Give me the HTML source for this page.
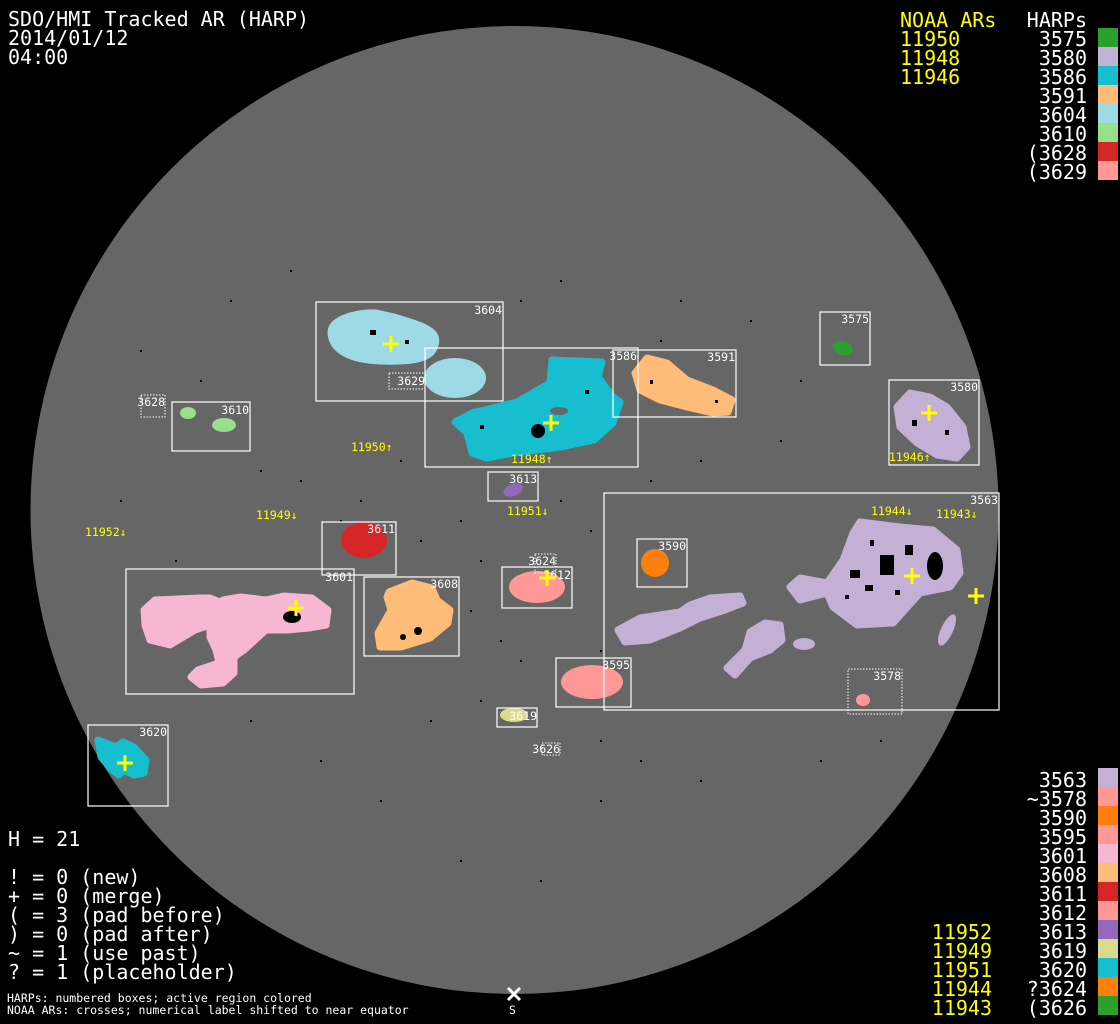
<!DOCTYPE html>
<html><head><meta charset="utf-8"><style>
html,body{margin:0;padding:0;background:#000;}
svg{display:block}
text{font-family:"DejaVu Sans Mono","Liberation Mono",monospace;}
.b{stroke-width:7;stroke-linejoin:round}
</style></head><body>
<svg width="1120" height="1024" viewBox="0 0 1120 1024" xmlns="http://www.w3.org/2000/svg">
<rect width="1120" height="1024" fill="#000"/>
<circle cx="514.5" cy="510" r="484" fill="#666666"/>

<g fill="#000">
<rect x="290" y="270" width="2" height="2"/><rect x="140" y="350" width="2" height="2"/><rect x="200" y="380" width="2" height="2"/>
<rect x="260" y="470" width="2" height="2"/><rect x="300" y="480" width="2" height="2"/><rect x="120" y="500" width="2" height="2"/>
<rect x="175" y="560" width="2" height="2"/><rect x="460" y="520" width="2" height="2"/><rect x="480" y="560" width="2" height="2"/>
<rect x="470" y="610" width="2" height="2"/><rect x="500" y="640" width="2" height="2"/><rect x="520" y="660" width="2" height="2"/>
<rect x="480" y="700" width="2" height="2"/><rect x="430" y="720" width="2" height="2"/><rect x="600" y="740" width="2" height="2"/>
<rect x="640" y="760" width="2" height="2"/><rect x="560" y="280" width="2" height="2"/><rect x="680" y="300" width="2" height="2"/>
<rect x="750" y="320" width="2" height="2"/><rect x="780" y="440" width="2" height="2"/><rect x="700" y="460" width="2" height="2"/>
<rect x="650" y="480" width="2" height="2"/><rect x="560" y="500" width="2" height="2"/><rect x="590" y="530" width="2" height="2"/>
<rect x="400" y="460" width="2" height="2"/><rect x="360" y="500" width="2" height="2"/><rect x="420" y="540" width="2" height="2"/>
<rect x="250" y="720" width="2" height="2"/><rect x="320" y="760" width="2" height="2"/><rect x="380" y="800" width="2" height="2"/>
<rect x="600" y="800" width="2" height="2"/><rect x="700" y="780" width="2" height="2"/><rect x="820" y="760" width="2" height="2"/>
<rect x="880" y="740" width="2" height="2"/><rect x="460" y="860" width="2" height="2"/><rect x="540" y="880" width="2" height="2"/>
<rect x="660" y="340" width="2" height="2"/><rect x="800" y="380" width="2" height="2"/><rect x="520" y="300" width="2" height="2"/>
<rect x="600" y="650" width="2" height="2"/><rect x="340" y="520" width="2" height="2"/><rect x="230" y="300" width="2" height="2"/>
</g>

<path class="b" stroke="#9edae5" d="M331,333 C330,318 360,312 376,313 L394,317 C420,325 440,330 435,345 C432,360 410,362 380,361 C350,360 332,350 331,333 Z" fill="#9edae5"/>
<ellipse cx="455" cy="378" rx="31" ry="20" fill="#9edae5"/>
<path class="b" stroke="#17becf" d="M455,422 L472,413 L517,402 L550,383 L552,360 L602,362 L598,377 L613,397 L620,402 L613,423 L594,440 L561,447 L513,453 L487,458 L472,453 L467,433 Z" fill="#17becf"/>
<ellipse cx="559" cy="411" rx="9" ry="4" fill="#666"/>
<circle cx="538" cy="431" r="7" fill="#000"/>
<path class="b" stroke="#ffbb78" d="M635,373 L647,358 L667,363 L687,380 L713,390 L732,400 L728,412 L713,413 L687,407 L660,400 L640,390 Z" fill="#ffbb78"/>
<ellipse cx="843" cy="348" rx="10" ry="7" transform="rotate(20 843 348)" fill="#2ca02c"/>
<path class="b" stroke="#c5b0d5" d="M897,407 L910,393 L930,397 L947,407 L963,427 L967,447 L957,458 L937,455 L917,443 L900,427 Z" fill="#c5b0d5"/>
<path class="b" stroke="#c5b0d5" d="M860,522 L900,527 L933,530 L957,550 L960,573 L950,587 L920,593 L893,623 L857,625 L833,607 L827,593 L800,600 L790,587 L800,578 L827,583 L843,560 L853,533 Z" fill="#c5b0d5"/>
<path class="b" stroke="#c5b0d5" d="M618,630 L640,618 L680,612 L690,605 L710,598 L740,596 L743,603 L725,610 L700,618 L680,628 L650,640 L625,642 Z" fill="#c5b0d5"/>
<path class="b" stroke="#c5b0d5" d="M727,668 L745,650 L750,632 L765,623 L780,625 L782,640 L770,650 L750,658 L735,675 Z" fill="#c5b0d5"/>
<ellipse cx="804" cy="644" rx="11" ry="6" fill="#c5b0d5"/>
<ellipse cx="947" cy="630" rx="6" ry="17" transform="rotate(25 947 630)" fill="#c5b0d5"/>
<g fill="#000"><ellipse cx="935" cy="566" rx="8" ry="14"/><rect x="880" y="555" width="14" height="20"/><rect x="850" y="570" width="10" height="8"/><rect x="905" y="545" width="8" height="10"/>
<rect x="865" y="585" width="8" height="6"/><rect x="870" y="540" width="4" height="6"/><rect x="895" y="590" width="5" height="5"/><rect x="845" y="595" width="4" height="4"/>
<rect x="912" y="420" width="5" height="6"/><rect x="945" y="430" width="4" height="5"/><rect x="480" y="425" width="4" height="4"/><rect x="585" y="390" width="4" height="4"/>
<rect x="370" y="330" width="6" height="5"/><rect x="405" y="340" width="4" height="4"/><rect x="240" y="618" width="5" height="4"/><rect x="180" y="615" width="4" height="5"/>
<rect x="650" y="380" width="3" height="4"/><rect x="715" y="400" width="3" height="3"/></g>
<circle cx="655" cy="563" r="14" fill="#ff7f0e"/>
<ellipse cx="863" cy="700" rx="7" ry="6" fill="#ff9896"/>
<ellipse cx="592" cy="682" rx="31" ry="17" fill="#ff9896"/>
<ellipse cx="537" cy="587" rx="28" ry="16" fill="#ff9896"/>
<ellipse cx="364" cy="540" rx="23" ry="18" fill="#d62728"/>
<path class="b" stroke="#ffbb78" d="M389,592 L412,583 L432,588 L437,600 L450,610 L448,623 L430,638 L401,647 L380,647 L378,633 L391,610 L387,597 Z" fill="#ffbb78"/>
<circle cx="418" cy="631" r="4" fill="#000"/><circle cx="403" cy="637" r="3" fill="#000"/>
<path class="b" stroke="#f7b6d2" d="M144,610 L155,600 L200,598 L210,598 L225,604 L210,625 L195,630 L170,645 L150,640 L145,625 Z" fill="#f7b6d2"/>
<path class="b" stroke="#f7b6d2" d="M210,623 L223,600 L241,597 L266,600 L284,596 L312,598 L328,610 L326,625 L309,628 L287,630 L266,630 L244,650 L234,657 L234,673 L223,683 L201,685 L191,677 L198,670 L219,663 L216,650 L210,637 Z" fill="#f7b6d2"/>
<ellipse cx="292" cy="617" rx="9" ry="6" fill="#000"/>
<ellipse cx="513" cy="490" rx="10" ry="6" transform="rotate(-20 513 490)" fill="#9467bd"/>
<ellipse cx="188" cy="413" rx="8" ry="6" fill="#98df8a"/>
<ellipse cx="224" cy="425" rx="12" ry="7" fill="#98df8a"/>
<ellipse cx="514" cy="715" rx="14" ry="7" fill="#dbdb8d"/>
<path class="b" stroke="#17becf" d="M98,740 L116,747 L123,742 L134,747 L146,760 L144,773 L134,775 L123,770 L119,775 L112,770 L101,757 Z" fill="#17becf"/>

<g fill="none" stroke="#fff" stroke-width="1.2">
<rect x="316" y="302" width="187" height="99"/>
<rect x="425" y="348" width="213" height="119"/>
<rect x="172" y="402" width="78" height="49"/>
<rect x="488" y="472" width="50" height="29"/>
<rect x="613" y="350" width="123" height="67"/>
<rect x="820" y="312" width="50" height="53"/>
<rect x="889" y="380" width="90" height="85"/>
<rect x="604" y="493" width="395" height="217"/>
<rect x="637" y="539" width="50" height="48"/>
<rect x="322" y="522" width="74" height="53"/>
<rect x="126" y="569" width="228" height="125"/>
<rect x="364" y="577" width="95" height="79"/>
<rect x="502" y="567" width="70" height="41"/>
<rect x="556" y="658" width="75" height="49"/>
<rect x="497" y="708" width="40" height="19"/>
<rect x="88" y="725" width="80" height="81"/>
</g>
<g fill="none" stroke="#fff" stroke-width="1" stroke-dasharray="1.5,1.5">
<rect x="141" y="395" width="24" height="22"/>
<rect x="389" y="373" width="36" height="16"/>
<rect x="848" y="669" width="54" height="45"/>
<rect x="535" y="554" width="21" height="19"/>
<rect x="542" y="743" width="18" height="12"/>
</g>

<g fill="#fff" font-size="11.5" text-anchor="end">
<text x="502" y="314">3604</text>
<text x="637" y="360">3586</text>
<text x="249" y="414">3610</text>
<text x="537" y="483">3613</text>
<text x="735" y="361">3591</text>
<text x="869" y="323">3575</text>
<text x="978" y="391">3580</text>
<text x="998" y="504">3563</text>
<text x="686" y="550">3590</text>
<text x="395" y="533">3611</text>
<text x="353" y="581">3601</text>
<text x="458" y="588">3608</text>
<text x="571" y="579">3612</text>
<text x="630" y="669">3595</text>
<text x="537" y="720">3619</text>
<text x="167" y="736">3620</text>
<text x="165" y="406">3628</text>
<text x="425" y="385">3629</text>
<text x="901" y="680">3578</text>
<text x="556" y="565">3624</text>
<text x="560" y="753">3626</text>
</g>

<g fill="#ffff00" font-size="11.5">
<text x="351" y="451">11950↑</text>
<text x="511" y="463">11948↑</text>
<text x="507" y="515">11951↓</text>
<text x="256" y="519">11949↓</text>
<text x="85" y="536">11952↓</text>
<text x="889" y="461">11946↑</text>
<text x="871" y="515">11944↓</text>
<text x="936" y="518">11943↓</text>
</g>

<g stroke="#ffff00" stroke-width="3" fill="none">
<path d="M383,344 h16 M391,336 v16"/>
<path d="M543,423 h16 M551,415 v16"/>
<path d="M921,413 h16 M929,405 v16"/>
<path d="M904,576 h16 M912,568 v16"/>
<path d="M968,596 h16 M976,588 v16"/>
<path d="M288,608 h16 M296,600 v16"/>
<path d="M117,763 h16 M125,755 v16"/>
<path d="M539,578 h16 M547,570 v16"/>
</g>

<g fill="#fff" font-size="20">
<text x="8" y="26">SDO/HMI Tracked AR (HARP)</text>
<text x="8" y="45">2014/01/12</text>
<text x="8" y="64">04:00</text>
<text x="8" y="846">H = 21</text>
<text x="8" y="884">! = 0 (new)</text>
<text x="8" y="903">+ = 0 (merge)</text>
<text x="8" y="922">( = 3 (pad before)</text>
<text x="8" y="941">) = 0 (pad after)</text>
<text x="8" y="960">~ = 1 (use past)</text>
<text x="8" y="979">? = 1 (placeholder)</text>
</g>
<g fill="#fff" font-size="11.5">
<text x="7" y="1002">HARPs: numbered boxes; active region colored</text>
<text x="7" y="1014">NOAA ARs: crosses; numerical label shifted to near equator</text>
<text x="509" y="1014">S</text>
</g>
<path d="M508,988 L520,1000 M520,988 L508,1000" stroke="#fff" stroke-width="3"/>

<g font-size="20">
<text x="900" y="27" fill="#ffff00">NOAA ARs</text>
<text x="1087" y="27" fill="#fff" text-anchor="end">HARPs</text>
<g fill="#ffff00"><text x="900" y="46">11950</text><text x="900" y="65">11948</text><text x="900" y="84">11946</text></g>
<g fill="#fff" text-anchor="end">
<text x="1087" y="46">3575</text><text x="1087" y="65">3580</text><text x="1087" y="84">3586</text><text x="1087" y="103">3591</text>
<text x="1087" y="122">3604</text><text x="1087" y="141">3610</text><text x="1087" y="160">(3628</text><text x="1087" y="179">(3629</text>
</g>
</g>
<rect x="1098" y="28" width="20" height="19" fill="#2ca02c"/>
<rect x="1098" y="47" width="20" height="19" fill="#c5b0d5"/>
<rect x="1098" y="66" width="20" height="19" fill="#17becf"/>
<rect x="1098" y="85" width="20" height="19" fill="#ffbb78"/>
<rect x="1098" y="104" width="20" height="19" fill="#9edae5"/>
<rect x="1098" y="123" width="20" height="19" fill="#98df8a"/>
<rect x="1098" y="142" width="20" height="19" fill="#d62728"/>
<rect x="1098" y="161" width="20" height="19" fill="#ff9896"/>

<g font-size="20">
<g fill="#fff" text-anchor="end">
<text x="1087" y="787">3563</text><text x="1087" y="806">~3578</text><text x="1087" y="825">3590</text><text x="1087" y="844">3595</text>
<text x="1087" y="863">3601</text><text x="1087" y="882">3608</text><text x="1087" y="901">3611</text><text x="1087" y="920">3612</text>
<text x="1087" y="939">3613</text><text x="1087" y="958">3619</text><text x="1087" y="977">3620</text><text x="1087" y="996">?3624</text>
<text x="1087" y="1015">(3626</text>
</g>
<g fill="#ffff00" text-anchor="end">
<text x="992" y="939">11952</text><text x="992" y="958">11949</text><text x="992" y="977">11951</text><text x="992" y="996">11944</text><text x="992" y="1015">11943</text>
</g>
</g>
<rect x="1098" y="768" width="20" height="19" fill="#c5b0d5"/>
<rect x="1098" y="787" width="20" height="19" fill="#ff9896"/>
<rect x="1098" y="806" width="20" height="19" fill="#ff7f0e"/>
<rect x="1098" y="825" width="20" height="19" fill="#ff9896"/>
<rect x="1098" y="844" width="20" height="19" fill="#f7b6d2"/>
<rect x="1098" y="863" width="20" height="19" fill="#ffbb78"/>
<rect x="1098" y="882" width="20" height="19" fill="#d62728"/>
<rect x="1098" y="901" width="20" height="19" fill="#ff9896"/>
<rect x="1098" y="920" width="20" height="19" fill="#9467bd"/>
<rect x="1098" y="939" width="20" height="19" fill="#dbdb8d"/>
<rect x="1098" y="958" width="20" height="19" fill="#17becf"/>
<rect x="1098" y="977" width="20" height="19" fill="#ff7f0e"/>
<rect x="1098" y="996" width="20" height="19" fill="#2ca02c"/>
</svg>
</body></html>
